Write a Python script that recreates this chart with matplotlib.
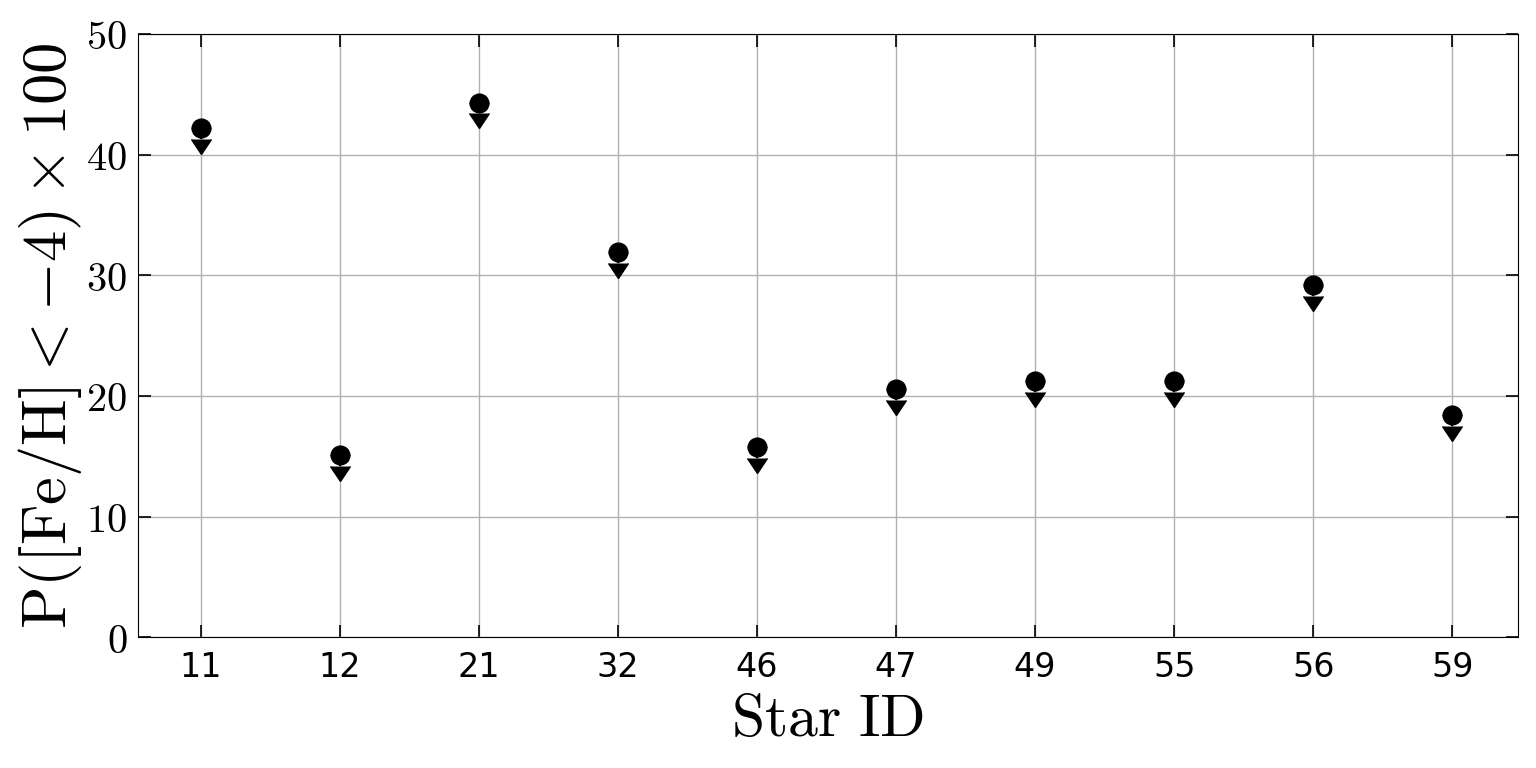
import matplotlib
matplotlib.use("Agg")
import matplotlib.pyplot as plt
import numpy as np

plt.rcParams["mathtext.fontset"] = "cm"

star_ids = ["11", "12", "21", "32", "46", "47", "49", "55", "56", "59"]
prob = [42.2, 15.1, 44.3, 31.9, 15.8, 20.6, 21.2, 21.2, 29.2, 18.4]
err = [0.9] * len(prob)

fig, ax = plt.subplots(figsize=(15.36, 7.68), dpi=100)
x = np.arange(len(star_ids))

ax.errorbar(x, prob, yerr=err, uplims=True, fmt="o", color="black",
            markersize=13.5, capsize=7, elinewidth=1.5, zorder=3)

ax.set_xlim(-0.45, 9.47)
ax.set_ylim(0, 50)
ax.set_xticks(x)
ax.set_xticklabels(star_ids, fontsize=24)
ax.set_yticks(range(0, 51, 10))
ax.set_yticklabels([r"$%d$" % v for v in range(0, 51, 10)], fontsize=29)
ax.tick_params(direction="in", top=True, right=True, length=9, width=1.2)
ax.tick_params(axis="x", pad=10)
ax.tick_params(axis="y", pad=8)
ax.grid(True, color="#b0b0b0", linewidth=1)
ax.set_axisbelow(True)

ax.set_xlabel(r"$\mathrm{Star\ ID}$", fontsize=43, labelpad=4)
ax.set_ylabel(r"$\mathrm{P([Fe/H]} < -4) \times 100$", fontsize=45, labelpad=2)

fig.subplots_adjust(left=0.09, right=0.988, top=0.956, bottom=0.17)
fig.savefig("out.png")
